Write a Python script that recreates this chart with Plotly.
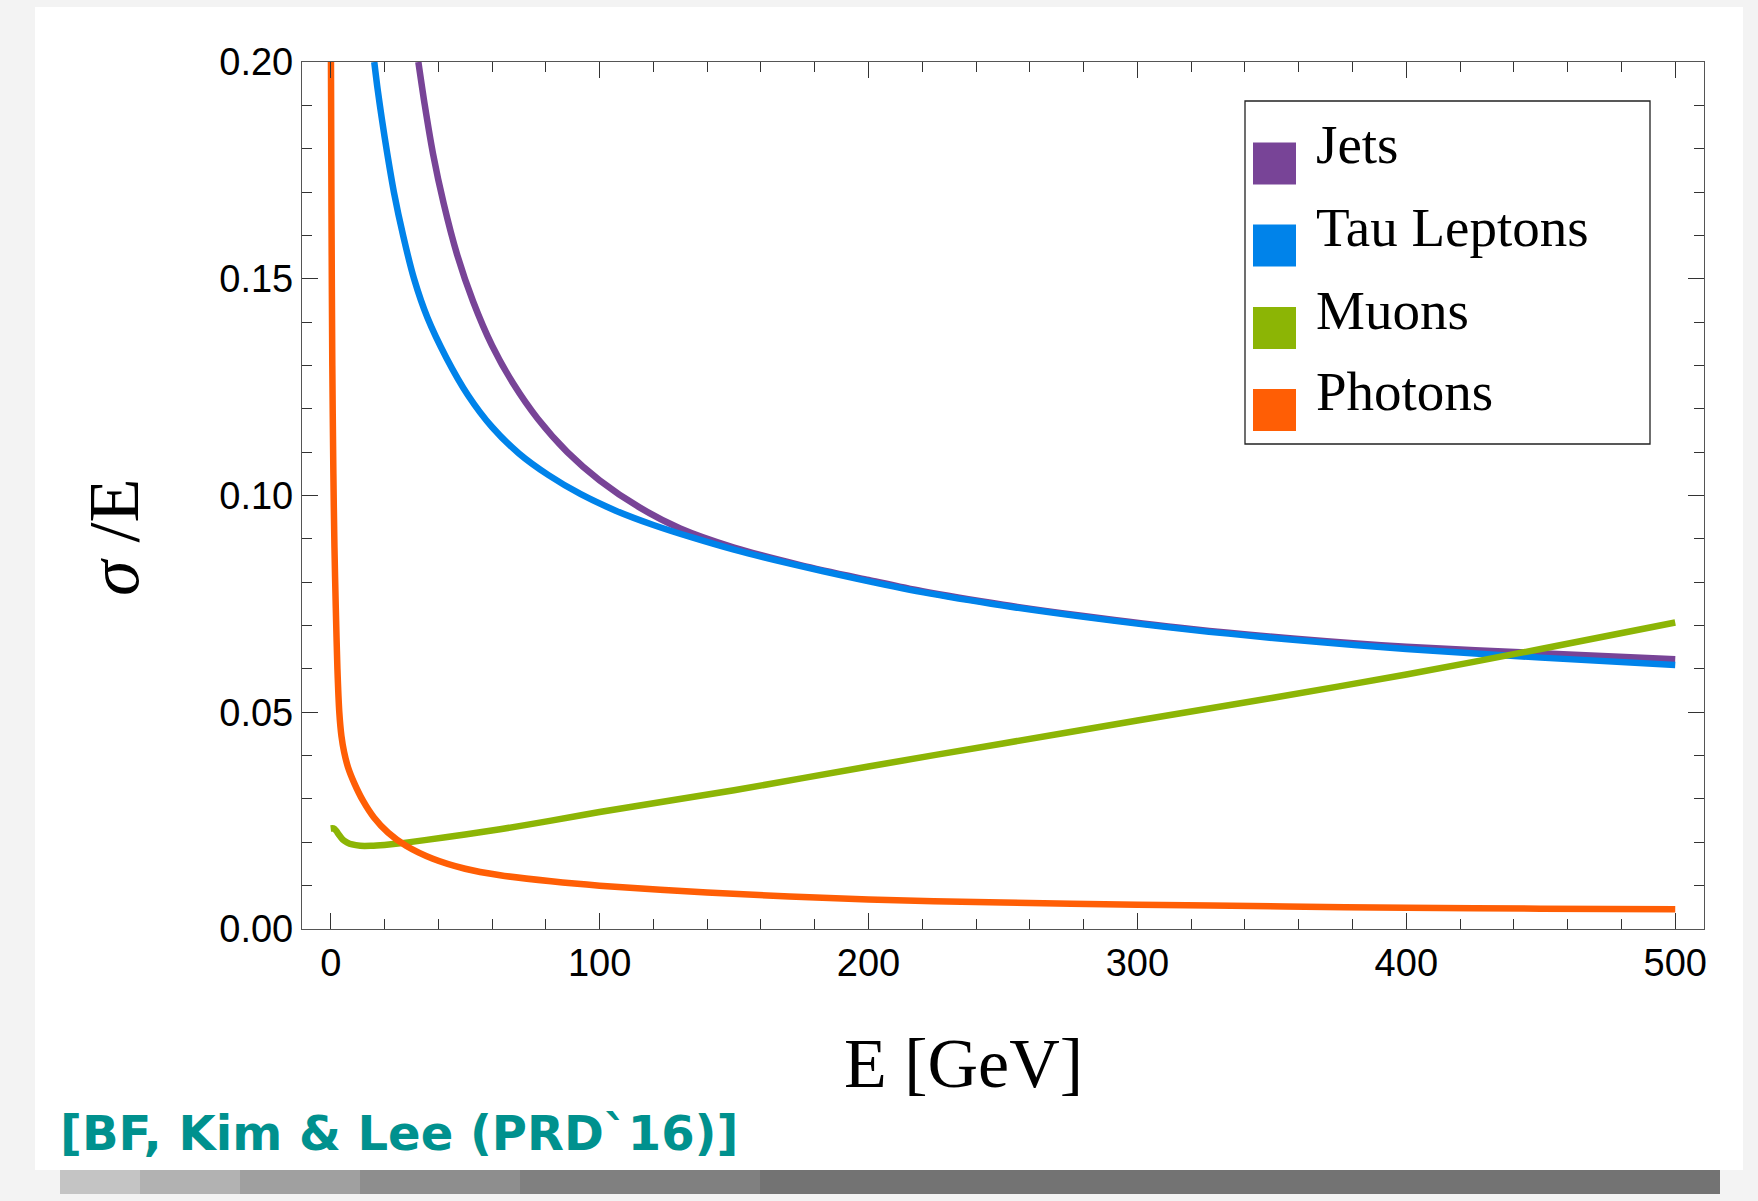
import plotly.graph_objects as go

# ---------------- data ----------------
E_jets = [32.6, 35, 38, 42, 47, 53, 60, 68, 77, 88, 100, 115, 130, 150, 175, 200, 220,
          250, 280, 320, 360, 400, 450, 500]
sig_jets = [0.200, 0.1900, 0.1790, 0.1674, 0.1556, 0.1447, 0.1346, 0.1257, 0.1177, 0.1100,
            0.1035, 0.0972, 0.0924, 0.0880, 0.0839, 0.0805, 0.0779, 0.0748, 0.0722, 0.0692,
            0.0669, 0.0651, 0.0636, 0.0622]

E_tau = [16.2, 17.5, 19, 21, 23.5, 27, 31, 36, 43, 51, 60, 70, 81, 93, 106, 120, 135, 150,
         170, 195, 220, 250, 280, 320, 360, 400, 450, 500]
sig_tau = [0.200, 0.1935, 0.1870, 0.1790, 0.1700, 0.1598, 0.1500, 0.1410, 0.1318, 0.1232,
           0.1158, 0.1097, 0.1047, 0.1003, 0.0965, 0.0932, 0.0902, 0.0875, 0.0844, 0.0809,
           0.0777, 0.0746, 0.0720, 0.0690, 0.0666, 0.0646, 0.0626, 0.0609]

E_muon = [0, 1, 2, 3, 4.5, 6, 8, 11, 15, 20, 25, 35, 50, 63, 82, 100, 150, 200, 250,
          300, 350, 400, 450, 500]
sig_muon = [0.0232, 0.0232, 0.0227, 0.0218, 0.0206, 0.0200, 0.0195, 0.0192, 0.0192,
            0.0194, 0.0197, 0.0205, 0.0218, 0.0230, 0.0250, 0.0270, 0.0320, 0.0375,
            0.0428, 0.0481, 0.0533, 0.0587, 0.0646, 0.0707]

E_photon = [0.1, 0.3, 0.6, 1.0, 1.4, 1.9, 2.5, 3.2, 4.0, 5.0, 6.5, 8.8, 12, 16, 21.4, 28,
            38, 50, 63, 82, 100, 140, 200, 250, 300, 355, 400, 450, 500]
sig_photon = [0.200, 0.165, 0.130, 0.105, 0.088, 0.074, 0.060, 0.050, 0.0445, 0.0408,
              0.0372, 0.0336, 0.0296, 0.0258, 0.0222, 0.0192, 0.0162, 0.0139, 0.0124,
              0.0110, 0.0100, 0.0084, 0.0068, 0.0061, 0.0056, 0.0052, 0.0049, 0.0047,
              0.00455]

series_names = ["Jets", "Tau Leptons", "Muons", "Photons"]
series_colors = ["#784497", "#0083ea", "#8cb505", "#ff5e05"]

x_ticks = [0, 100, 200, 300, 400, 500]
y_ticks = [0.00, 0.05, 0.10, 0.15, 0.20]
x_title = "E [GeV]"
y_title = "<i>σ</i> /E"
citation = "[BF, Kim & Lee (PRD`16)]"

# ---------------- layout geometry (pixels) ----------------
W_PX, H_PX = 1758, 1201
L, R, T, B = 302, 1704, 62, 929
PW, PH = R - L, B - T


def px(x):
    return (x - L) / PW


def py(y):
    return (B - y) / PH


fig = go.Figure()
data = [(E_jets, sig_jets), (E_tau, sig_tau), (E_muon, sig_muon), (E_photon, sig_photon)]
for (xs, ys), name, col in zip(data, series_names, series_colors):
    fig.add_trace(go.Scatter(x=xs, y=ys, mode="lines", name=name, showlegend=False,
                             line=dict(color=col, width=6.5, shape="spline", smoothing=0.8),
                             hoverinfo="skip"))

shapes = []
# shadow under the card (stepped grey to mimic the gradient)
shadow_steps = [(60, 140, "#c4c4c4"), (140, 240, "#b2b2b2"), (240, 360, "#a0a0a0"),
                (360, 520, "#8e8e8e"), (520, 760, "#808080"), (760, 1720, "#737373")]
for x0, x1, c in shadow_steps:
    shapes.append(dict(type="rect", xref="paper", yref="paper", x0=px(x0), x1=px(x1),
                       y0=py(1194), y1=py(1160), fillcolor=c, line_width=0, layer="below"))
shapes.append(dict(type="rect", xref="paper", yref="paper", x0=px(35), x1=px(1743),
                   y0=py(1170), y1=py(7), fillcolor="white", line_width=0, layer="below"))

# legend box
shapes.append(dict(type="rect", xref="paper", yref="paper", x0=px(1245), x1=px(1650),
                   y0=py(444), y1=py(101), fillcolor="white",
                   line=dict(color="#222222", width=1.3), layer="above"))
sq_tops = [142.5, 224.5, 307, 389]
text_mid = [144.7, 227.8, 310.0, 391.7]
annotations = []
for top, mid, name, col in zip(sq_tops, text_mid, series_names, series_colors):
    shapes.append(dict(type="rect", xref="paper", yref="paper", x0=px(1253), x1=px(1296),
                       y0=py(top + 42), y1=py(top), fillcolor=col, line_width=0, layer="above"))
    annotations.append(dict(xref="paper", yref="paper", x=px(1314), y=py(mid), text=name,
                            showarrow=False, xanchor="left", yanchor="middle",
                            font=dict(family="Liberation Serif", size=55, color="black")))

annotations.append(dict(xref="paper", yref="paper", x=px(963), y=py(1063), text=x_title,
                        showarrow=False, xanchor="center", yanchor="middle",
                        font=dict(family="Liberation Serif", size=70, color="black")))
annotations.append(dict(xref="paper", yref="paper", x=px(114), y=py(537), text=y_title,
                        showarrow=False, xanchor="center", yanchor="middle", textangle=-90,
                        font=dict(family="Liberation Serif", size=72, color="black")))
annotations.append(dict(xref="paper", yref="paper", x=px(58), y=py(1133), text="<b>" + citation + "</b>",
                        showarrow=False, xanchor="left", yanchor="middle",
                        font=dict(family="DejaVu Sans", size=48, color="#00918e")))

axis_common = dict(showline=True, linecolor="#555555", linewidth=1.3, mirror="ticks",
                   ticks="inside", ticklen=16, tickwidth=1.2, tickcolor="#333333",
                   showgrid=False, zeroline=False,
                   tickfont=dict(family="Liberation Sans", size=38, color="black"))

fig.update_xaxes(range=[-10.67, 510.7], tickvals=x_ticks, ticktext=[str(v) for v in x_ticks],
                 minor=dict(dtick=20, tick0=0, ticks="inside", ticklen=10, tickcolor="#333333",
                            tickwidth=1.1, showgrid=False),
                 **axis_common)
fig.update_yaxes(range=[0, 0.2], tickvals=y_ticks, ticktext=["%.2f" % v for v in y_ticks],
                 minor=dict(dtick=0.01, tick0=0, ticks="inside", ticklen=10, tickcolor="#333333",
                            tickwidth=1.1, showgrid=False),
                 **axis_common)

fig.update_layout(width=W_PX, height=H_PX,
                  margin=dict(l=L, r=W_PX - R, t=T, b=H_PX - B, autoexpand=False),
                  paper_bgcolor="#f3f3f3", plot_bgcolor="white",
                  shapes=shapes, annotations=annotations)

fig.write_html("out.html")
